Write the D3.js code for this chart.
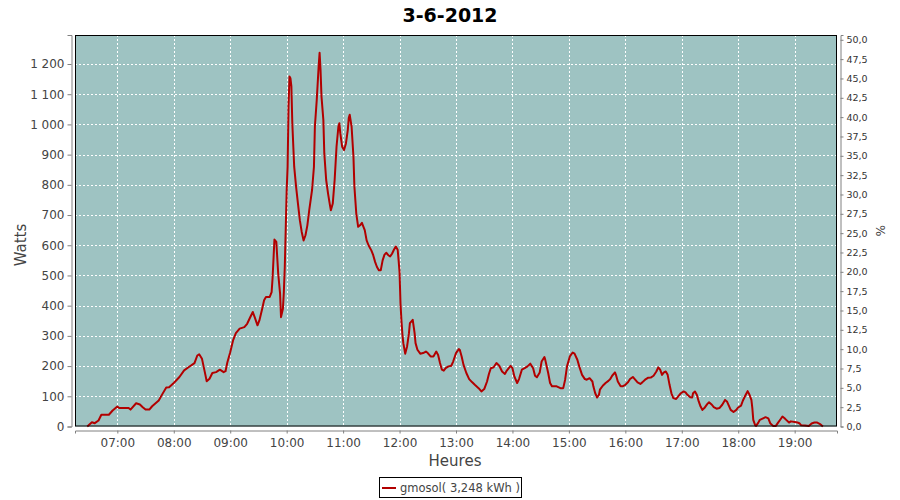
<!DOCTYPE html>
<html><head><meta charset="utf-8">
<script src="https://cdn.jsdelivr.net/npm/d3@7"></script>
<style>body{margin:0;background:#fff}svg{display:block}</style>
</head><body>
<script>
const title = "3-6-2012";
const seriesName = "gmosol( 3,248 kWh )";
const times = ["06:28","06:33","06:36","06:40","06:43","06:51","06:55","07:00","07:02","07:12","07:14","07:20","07:24","07:27","07:30","07:34","07:37","07:44","07:48","07:52","07:55","08:00","08:06","08:11","08:16","08:22","08:25","08:27","08:30","08:33","08:35","08:38","08:41","08:45","08:49","08:53","08:55","08:57","09:00","09:03","09:06","09:10","09:15","09:18","09:21","09:24","09:26","09:29","09:31","09:34","09:36","09:38","09:42","09:44","09:45","09:47","09:49","09:51","09:53","09:54","09:56","09:57","09:58","10:00","10:01","10:02","10:03","10:04","10:05","10:06","10:08","10:10","10:12","10:14","10:16","10:18","10:20","10:22","10:24","10:27","10:29","10:30","10:32","10:34","10:35","10:36","10:37","10:39","10:40","10:42","10:44","10:46","10:47","10:49","10:51","10:53","10:55","10:56","10:57","10:59","11:01","11:03","11:05","11:06","11:07","11:09","11:11","11:12","11:14","11:16","11:18","11:20","11:21","11:23","11:25","11:27","11:30","11:32","11:34","11:36","11:38","11:40","11:42","11:44","11:46","11:48","11:50","11:52","11:54","11:56","11:58","11:59","12:00","12:01","12:02","12:03","12:04","12:06","12:08","12:10","12:11","12:14","12:16","12:17","12:19","12:22","12:25","12:28","12:30","12:33","12:36","12:39","12:41","12:43","12:45","12:47","12:49","12:52","12:55","12:57","13:00","13:03","13:04","13:06","13:08","13:11","13:14","13:17","13:20","13:24","13:27","13:30","13:33","13:35","13:37","13:40","13:43","13:46","13:49","13:52","13:54","13:58","14:00","14:02","14:05","14:07","14:10","14:13","14:16","14:19","14:22","14:24","14:26","14:29","14:31","14:34","14:35","14:38","14:40","14:42","14:47","14:51","14:54","14:56","14:58","15:01","15:04","15:06","15:09","15:11","15:14","15:17","15:19","15:22","15:25","15:26","15:28","15:30","15:32","15:33","15:36","15:39","15:42","15:44","15:46","15:49","15:50","15:52","15:55","15:57","16:00","16:03","16:05","16:08","16:10","16:13","16:16","16:18","16:21","16:24","16:27","16:30","16:33","16:35","16:37","16:39","16:41","16:43","16:45","16:47","16:49","16:51","16:54","16:56","16:59","17:02","17:04","17:06","17:09","17:11","17:12","17:14","17:16","17:18","17:20","17:22","17:24","17:27","17:29","17:32","17:34","17:37","17:40","17:43","17:46","17:48","17:50","17:52","17:55","17:58","18:00","18:03","18:05","18:08","18:10","18:12","18:14","18:15","18:16","18:18","18:19","18:21","18:23","18:27","18:29","18:32","18:34","18:37","18:40","18:42","18:45","18:47","18:49","18:51","18:54","18:56","19:00","19:03","19:05","19:07","19:11","19:15","19:18","19:21","19:24","19:27","19:30"];
const watts = [0,14,11,20,39,39,53,66,61,61,56,77,73,64,56,56,67,86,108,129,130,144,164,186,197,210,235,239,224,180,150,158,177,180,188,180,183,213,246,285,309,324,329,340,360,379,362,335,351,390,418,429,429,445,490,619,611,506,440,362,390,445,528,780,860,1059,1159,1153,1126,1004,860,794,738,683,644,616,633,666,716,783,860,993,1082,1192,1237,1181,1093,1015,904,816,771,733,716,738,816,926,993,1004,971,926,915,937,982,1021,1032,993,893,794,705,661,666,674,666,650,616,600,583,567,545,528,517,517,550,569,575,567,563,572,585,596,585,550,510,408,351,306,276,241,265,309,342,353,309,276,254,241,243,248,243,232,232,248,237,210,188,185,193,199,201,215,243,256,254,232,204,177,157,147,138,127,116,124,149,174,193,196,210,201,182,174,185,201,193,166,144,157,188,193,199,208,193,168,163,179,215,230,219,177,144,133,133,127,127,155,199,232,245,241,221,199,171,157,155,160,149,133,110,96,105,122,135,144,151,157,168,179,171,149,133,133,138,147,157,164,157,146,141,146,155,161,162,168,182,196,188,171,179,182,171,138,110,94,91,99,110,116,113,105,97,96,110,116,105,83,66,55,61,74,80,72,64,59,61,72,88,83,69,55,48,55,63,69,86,105,117,105,88,61,22,4,2,11,22,28,31,27,11,2,2,11,24,33,28,22,13,17,15,13,11,4,3,2,10,13,13,8,0];
const hourTicks = ["07:00","08:00","09:00","10:00","11:00","12:00","13:00","14:00","15:00","16:00","17:00","18:00","19:00"];
const wattTicks = [0,100,200,300,400,500,600,700,800,900,1000,1100,1200];
const pctTicks = [0,2.5,5,7.5,10,12.5,15,17.5,20,22.5,25,27.5,30,32.5,35,37.5,40,42.5,45,47.5,50];

const W = 900, H = 500;
const m = {left:75, right:63, top:35, bottom:73.5};
const pw = W - m.left - m.right, ph = H - m.top - m.bottom;
const parse = d3.timeParse("%H:%M");
const data = times.map((t,i)=>({t:parse(t), v:watts[i]}));

const x = d3.scaleTime().domain([parse("06:15"), parse("19:45")]).range([m.left, m.left+pw]);
const y = d3.scaleLinear().domain([0,1296]).range([m.top+ph, m.top]);
const y2 = d3.scaleLinear().domain([0,50.62]).range([m.top+ph, m.top]);

const svg = d3.select("body").append("svg").attr("width",W).attr("height",H)
  .style("font-family","'DejaVu Sans', sans-serif");

svg.append("rect").attr("x",m.left).attr("y",m.top).attr("width",pw).attr("height",ph).attr("fill","#9ec3c2");

const grid = svg.append("g").attr("stroke","#fff").attr("stroke-width",1).attr("stroke-dasharray","2,2");
grid.selectAll("line.h").data(wattTicks.filter(d=>d>0)).join("line")
  .attr("x1",m.left).attr("x2",m.left+pw)
  .attr("y1",d=>Math.round(y(d))+0.5).attr("y2",d=>Math.round(y(d))+0.5);
grid.selectAll("line.v").data(hourTicks.map(parse)).join("line")
  .attr("y1",m.top).attr("y2",m.top+ph)
  .attr("x1",d=>Math.round(x(d))+0.5).attr("x2",d=>Math.round(x(d))+0.5);

const line = d3.line().x(d=>x(d.t)).y(d=>y(d.v));
svg.append("path").datum(data).attr("d",line).attr("fill","none")
  .attr("stroke","#b20000").attr("stroke-width",2).attr("stroke-linejoin","round");

svg.append("rect").attr("x",m.left+0.5).attr("y",m.top+0.5).attr("width",pw-1).attr("height",ph-1)
  .attr("fill","none").attr("stroke","#000").attr("stroke-width",1);

const fmtW = v => d3.format(",")(v).replace(/,/g," ");
const fmtP = v => d3.format(".1f")(v).replace(".",",");

const axL = svg.append("g").attr("transform",`translate(${m.left-3.5},0)`)
  .call(d3.axisLeft(y).tickValues(wattTicks).tickFormat(fmtW).tickSize(4).tickPadding(3));
const axB = svg.append("g").attr("transform",`translate(0,${m.top+ph+4})`)
  .call(d3.axisBottom(x).tickValues(hourTicks.map(parse)).tickFormat(d3.timeFormat("%H:%M")).tickSize(3).tickPadding(5));
const axR = svg.append("g").attr("transform",`translate(${m.left+pw+3.5},0)`)
  .call(d3.axisRight(y2).tickValues(pctTicks).tickFormat(fmtP).tickSize(3).tickPadding(3));
[axL,axB,axR].forEach(a=>{
  a.selectAll("path.domain").attr("stroke","#808080");
  a.selectAll(".tick line").attr("stroke","#808080");
  a.selectAll("text").attr("fill","#444").style("font-family","'DejaVu Sans', sans-serif");
});
axL.selectAll("text").attr("font-size",12);
axB.selectAll("text").attr("font-size",12);
axR.selectAll("text").attr("font-size",9.5).attr("fill","#333");

svg.append("text").attr("x",450).attr("y",22).attr("text-anchor","middle")
  .attr("font-size",19).attr("font-weight","bold").attr("fill","#000").text(title);
svg.append("text").attr("transform",`translate(26,245) rotate(-90)`).attr("text-anchor","middle")
  .attr("font-size",15).attr("fill","#444").text("Watts");
svg.append("text").attr("transform",`translate(876,${m.top+ph/2}) rotate(90)`).attr("text-anchor","middle")
  .attr("font-size",12).attr("fill","#444").text("%");
svg.append("text").attr("x",455).attr("y",466).attr("text-anchor","middle")
  .attr("font-size",15).attr("fill","#444").text("Heures");

const lg = svg.append("g");
lg.append("rect").attr("x",379.5).attr("y",477.5).attr("width",142).attr("height",20).attr("fill","#fff").attr("stroke","#000");
lg.append("line").attr("x1",382).attr("x2",396).attr("y1",488).attr("y2",488).attr("stroke","#b20000").attr("stroke-width",2);
lg.append("text").attr("x",400).attr("y",492).attr("font-size",11.5).attr("fill","#444").text(seriesName);
</script>
</body></html>
